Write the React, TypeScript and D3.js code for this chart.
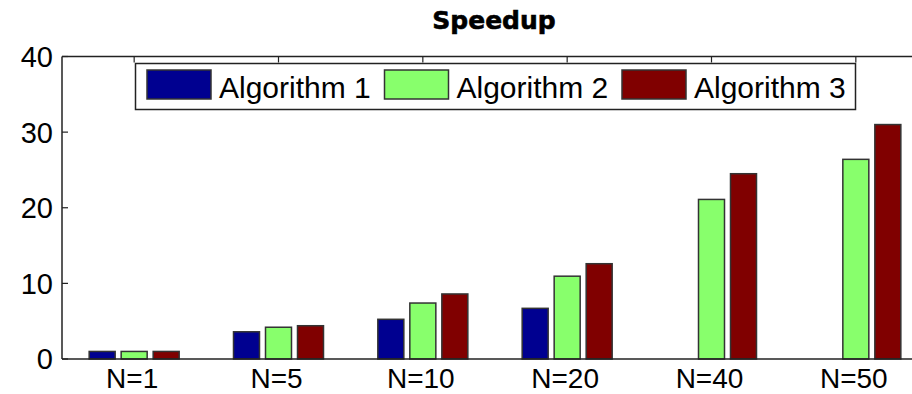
import React, { useEffect, useRef } from 'react';
import * as d3 from 'd3';

// data
const categories = ['N=1', 'N=5', 'N=10', 'N=20', 'N=40', 'N=50'];
const seriesNames = ['Algorithm 1', 'Algorithm 2', 'Algorithm 3'];
const algo1 = [1.0, 3.6, 5.25, 6.7, null, null];
const algo2 = [1.0, 4.2, 7.4, 10.95, 21.1, 26.4];
const algo3 = [1.0, 4.4, 8.6, 12.6, 24.5, 31.0];
const yTicks = [0, 10, 20, 30, 40];
const colors = ['#000090', '#88ff6c', '#800000'];

const W = 912;
const H = 394;

export default function App() {
  const ref = useRef<SVGSVGElement>(null);

  useEffect(() => {
    const svg = d3.select(ref.current);
    svg.selectAll('*').remove();

    const left = 62, right = 928, top = 56.5, bottom = 359;
    const series = [algo1, algo2, algo3];

    const x = d3.scaleBand<string>().domain(categories).range([left, right]).padding(0);
    const inner = d3.scaleBand<string>().domain(seriesNames).range([-48, 48])
      .paddingInner(0.1875).paddingOuter(0.09375);
    const y = d3.scaleLinear().domain([0, 40]).range([bottom, top]);
    const cx = (c: string) => (x(c) as number) + x.bandwidth() / 2;

    // white plot area
    svg.append('rect').attr('x', left).attr('y', top).attr('width', right - left)
      .attr('height', bottom - top).attr('fill', '#fff');

    // y ticks (inward)
    yTicks.forEach((t) => {
      svg.append('line').attr('x1', left).attr('x2', left + 6).attr('y1', y(t)).attr('y2', y(t))
        .attr('stroke', '#222').attr('stroke-width', 1.2);
      svg.append('text').attr('x', 53).attr('y', y(t)).attr('dy', '0.36em')
        .attr('text-anchor', 'end').attr('font-family', 'Liberation Sans, Arial, sans-serif')
        .attr('font-size', 29).attr('fill', '#000').text(t);
    });

    // x ticks top and bottom
    categories.forEach((c) => {
      svg.append('line').attr('x1', cx(c)).attr('x2', cx(c)).attr('y1', top).attr('y2', top + 6)
        .attr('stroke', '#222').attr('stroke-width', 1.2);
      svg.append('line').attr('x1', cx(c)).attr('x2', cx(c)).attr('y1', bottom).attr('y2', bottom - 6)
        .attr('stroke', '#222').attr('stroke-width', 1.2);
      svg.append('text').attr('x', cx(c) - 2).attr('y', 388).attr('text-anchor', 'middle')
        .attr('font-family', 'Liberation Sans, Arial, sans-serif').attr('font-size', 28)
        .attr('fill', '#000').text(c);
    });

    // bars
    series.forEach((vals, si) => {
      svg.append('g').selectAll('rect')
        .data(vals.map((v, i) => ({ v, c: categories[i] })).filter((d) => d.v != null))
        .enter().append('rect')
        .attr('x', (d) => cx(d.c) + (inner(seriesNames[si]) as number))
        .attr('y', (d) => y(d.v as number))
        .attr('width', inner.bandwidth())
        .attr('height', (d) => bottom - y(d.v as number))
        .attr('fill', colors[si])
        .attr('stroke', '#333')
        .attr('stroke-width', 1.5);
    });

    // axes box lines
    svg.append('line').attr('x1', left).attr('x2', right).attr('y1', top).attr('y2', top)
      .attr('stroke', '#222').attr('stroke-width', 1.5);
    svg.append('line').attr('x1', left).attr('x2', right).attr('y1', bottom).attr('y2', bottom)
      .attr('stroke', '#222').attr('stroke-width', 1.5);
    svg.append('line').attr('x1', left).attr('x2', left).attr('y1', top).attr('y2', bottom)
      .attr('stroke', '#222').attr('stroke-width', 1.5);

    // title
    svg.append('text').attr('x', 494).attr('y', 29).attr('text-anchor', 'middle')
      .attr('font-family', 'DejaVu Sans, sans-serif').attr('font-weight', 'bold')
      .attr('font-size', 25).attr('fill', '#000').attr('stroke', '#000').attr('stroke-width', 0.6)
      .text('Speedup');

    // legend
    const lg = svg.append('g');
    lg.append('rect').attr('x', 135.5).attr('y', 63.5).attr('width', 720).attr('height', 46)
      .attr('fill', '#fff').attr('stroke', '#222').attr('stroke-width', 1.5);
    seriesNames.forEach((name, i) => {
      const sx = 147 + i * 237.5;
      lg.append('rect').attr('x', sx).attr('y', 70).attr('width', 64).attr('height', 29)
        .attr('fill', colors[i]).attr('stroke', '#333').attr('stroke-width', 1.5);
      lg.append('text').attr('x', sx + 72).attr('y', 98)
        .attr('font-family', 'Liberation Sans, Arial, sans-serif').attr('font-size', 30)
        .attr('fill', '#000').text(name);
    });
  }, []);

  return (
    <svg ref={ref} width={W} height={H}
      style={{ position: 'absolute', left: 0, top: 0, background: '#fff' }} />
  );
}
